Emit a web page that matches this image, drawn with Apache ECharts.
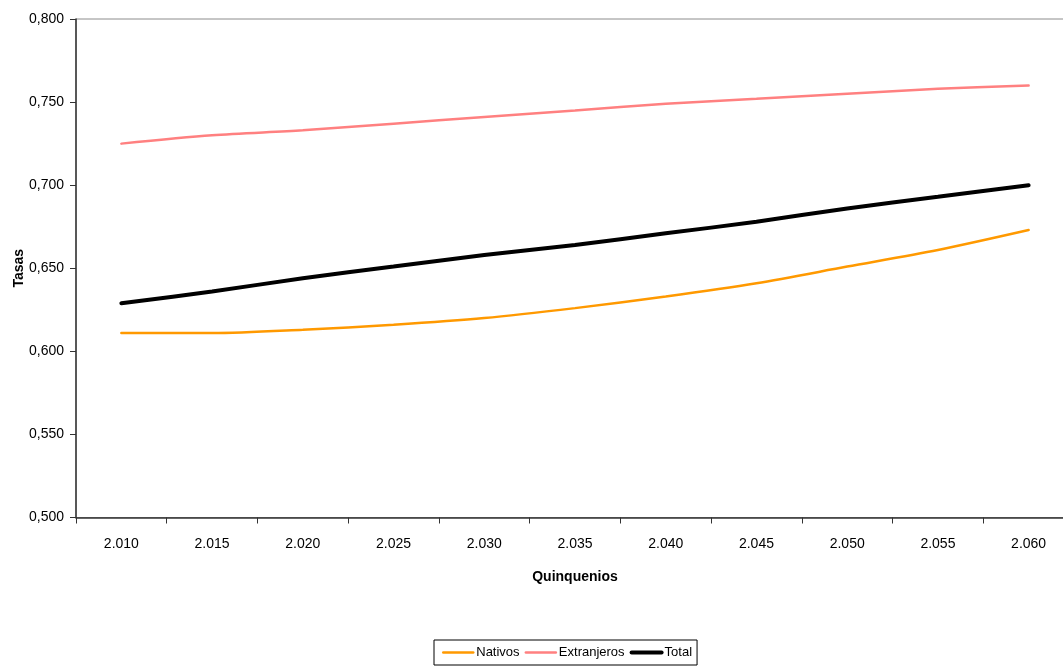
<!DOCTYPE html>
<html>
<head>
<meta charset="utf-8">
<script src="https://cdn.jsdelivr.net/npm/echarts@6/dist/echarts.min.js"></script>
<style>
  html, body { margin: 0; padding: 0; background: #fff; }
  #chart { width: 1063px; height: 666px; }
</style>
</head>
<body>
<div id="chart"></div>
<script>
// Quinquenios (five-year periods)
var categories = ['2.010', '2.015', '2.020', '2.025', '2.030', '2.035', '2.040', '2.045', '2.050', '2.055', '2.060'];

// Tasas por grupo
var nativos     = [0.611, 0.611, 0.613, 0.616, 0.620, 0.626, 0.633, 0.641, 0.651, 0.661, 0.673];
var extranjeros = [0.725, 0.730, 0.733, 0.737, 0.741, 0.745, 0.749, 0.752, 0.755, 0.758, 0.760];
var total       = [0.629, 0.636, 0.644, 0.651, 0.658, 0.664, 0.671, 0.678, 0.686, 0.693, 0.700];

var seriesNames = ['Nativos', 'Extranjeros', 'Total'];

var FONT = '"Liberation Sans", Arial, sans-serif';

var chart = echarts.init(document.getElementById('chart'), null, { renderer: 'canvas' });

function lineSeries(name, data, color, width) {
  return {
    name: name,
    type: 'line',
    data: data,
    smooth: 0.3,
    symbol: 'none',
    showSymbol: false,
    lineStyle: { color: color, width: width, cap: 'round' },
    itemStyle: { color: color },
    emphasis: { disabled: true }
  };
}

chart.setOption({
  animation: false,
  backgroundColor: '#ffffff',
  grid: {
    left: 76,
    top: 19,
    width: 998,
    bottom: 148.5,
    containLabel: false,
    outerBoundsMode: 'none',
    show: true,
    borderColor: '#8c8c8c',
    borderWidth: 1,
    backgroundColor: 'transparent'
  },
  legend: {
    data: [
      { name: seriesNames[0], lineStyle: { width: 2.5 } },
      { name: seriesNames[1], lineStyle: { width: 2.5 } },
      { name: seriesNames[2], lineStyle: { width: 4 } }
    ],
    left: 434,
    top: 640,
    orient: 'horizontal',
    itemWidth: 30,
    itemHeight: 12,
    itemGap: 5,
    padding: [6, 5, 6, 8],
    borderColor: '#000',
    borderWidth: 1,
    backgroundColor: '#fff',
    itemStyle: { opacity: 0, borderWidth: 0 },
    lineStyle: { opacity: 1 },
    textStyle: { fontFamily: FONT, fontSize: 13, color: '#000', padding: [0, 0, 0, -2] }
  },
  xAxis: {
    type: 'category',
    data: categories,
    boundaryGap: true,
    name: 'Quinquenios',
    nameLocation: 'middle',
    nameGap: 53,
    nameMoveOverlap: false,
    nameTextStyle: { fontFamily: FONT, fontSize: 14, fontWeight: 'bold', color: '#000' },
    axisLine: { lineStyle: { color: '#333', width: 1.5 } },
    axisTick: { show: true, length: 6, lineStyle: { color: '#333' } },
    axisLabel: { fontFamily: FONT, fontSize: 14, color: '#000', margin: 20 },
    splitLine: { show: false }
  },
  yAxis: {
    type: 'value',
    min: 0.5,
    max: 0.8,
    interval: 0.05,
    name: 'Tasas',
    nameLocation: 'middle',
    nameGap: 50,
    nameRotate: 90,
    nameMoveOverlap: false,
    nameTextStyle: { fontFamily: FONT, fontSize: 14, fontWeight: 'bold', color: '#000' },
    axisLine: { show: true, lineStyle: { color: '#333', width: 1.5 } },
    axisTick: { show: true, length: 6, lineStyle: { color: '#333' } },
    axisLabel: {
      fontFamily: FONT, fontSize: 14, color: '#000', margin: 12,
      formatter: function (v) { return v.toFixed(3).replace('.', ','); }
    },
    splitLine: { show: false }
  },
  series: [
    lineSeries(seriesNames[0], nativos, '#FF9900', 2.5),
    lineSeries(seriesNames[1], extranjeros, '#FF8080', 2.5),
    lineSeries(seriesNames[2], total, '#000000', 4)
  ]
});
</script>
</body>
</html>
